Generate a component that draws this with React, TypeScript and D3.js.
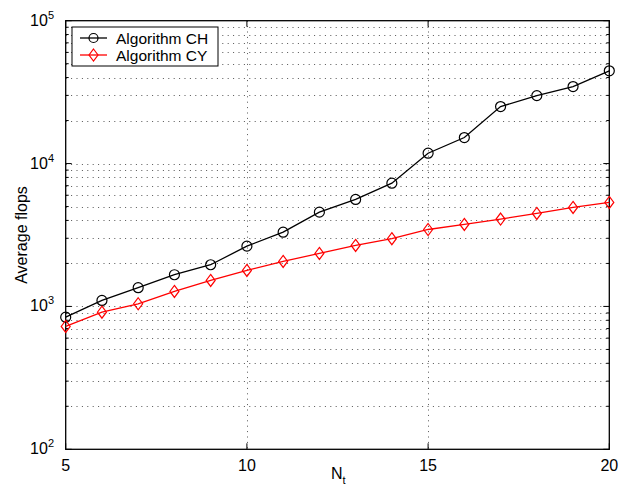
import React, { useEffect, useRef } from "react";
import * as d3 from "d3";

const nt = [5, 6, 7, 8, 9, 10, 11, 12, 13, 14, 15, 16, 17, 18, 19, 20];
const flopsCH = [841, 1101, 1352, 1667, 1958, 2642, 3310, 4570, 5610, 7290, 11820, 15210, 25060, 29900, 34600, 44600];
const flopsCY = [724, 912, 1044, 1274, 1520, 1786, 2066, 2350, 2673, 2978, 3456, 3750, 4085, 4475, 4930, 5347];
const xTicks = [5, 10, 15, 20];
const yDecades = [2, 3, 4, 5];
const seriesNames = ["Algorithm CH", "Algorithm CY"];

const App = () => {
  const ref = useRef<SVGSVGElement>(null);

  useEffect(() => {
    const svg = d3.select(ref.current);
    svg.selectAll("*").remove();

    const left = 65.7, right = 609.3, top = 20.7, bottom = 449.3;
    const font = "'Liberation Sans', Arial, Helvetica, sans-serif";

    const x = d3.scaleLinear().domain([5, 20]).range([left, right]);
    const y = d3.scaleLog().domain([100, 100000]).range([bottom, top]);

    // minor ticks on log axis
    const minor: number[] = [];
    yDecades.slice(0, -1).forEach((e) => {
      for (let m = 2; m <= 9; m++) minor.push(m * Math.pow(10, e));
    });
    const major = yDecades.map((e) => Math.pow(10, e));

    // grid
    const grid = svg.append("g").attr("stroke", "#555").attr("stroke-width", 1).attr("stroke-dasharray", "1,4.4");
    [...minor, ...major.slice(1, -1)].forEach((v) => {
      grid.append("line").attr("x1", left).attr("x2", right)
        .attr("y1", Math.round(y(v)) + 0.5).attr("y2", Math.round(y(v)) + 0.5);
    });
    xTicks.slice(1, -1).forEach((v) => {
      grid.append("line").attr("y1", top).attr("y2", bottom)
        .attr("x1", Math.round(x(v)) + 0.5).attr("x2", Math.round(x(v)) + 0.5);
    });

    // ticks (inward, both sides)
    const ticks = svg.append("g").attr("stroke", "#000").attr("stroke-width", 1);
    major.forEach((v) => {
      const yy = y(v);
      ticks.append("line").attr("x1", left).attr("x2", left + 6).attr("y1", yy).attr("y2", yy);
      ticks.append("line").attr("x1", right).attr("x2", right - 6).attr("y1", yy).attr("y2", yy);
    });
    minor.forEach((v) => {
      const yy = y(v);
      ticks.append("line").attr("x1", left).attr("x2", left + 3).attr("y1", yy).attr("y2", yy);
      ticks.append("line").attr("x1", right).attr("x2", right - 3).attr("y1", yy).attr("y2", yy);
    });
    xTicks.forEach((v) => {
      const xx = x(v);
      ticks.append("line").attr("x1", xx).attr("x2", xx).attr("y1", bottom).attr("y2", bottom - 6);
      ticks.append("line").attr("x1", xx).attr("x2", xx).attr("y1", top).attr("y2", top + 6);
    });

    // frame
    svg.append("rect").attr("x", left).attr("y", top)
      .attr("width", right - left).attr("height", bottom - top)
      .attr("fill", "none").attr("stroke", "#000").attr("stroke-width", 1.3);

    // tick labels
    xTicks.forEach((v) => {
      svg.append("text").attr("x", x(v)).attr("y", 471)
        .attr("text-anchor", "middle").attr("font-family", font).attr("font-size", 16)
        .text(String(v));
    });
    yDecades.forEach((e) => {
      const t = svg.append("text").attr("x", 54).attr("y", y(Math.pow(10, e)) + 5)
        .attr("text-anchor", "end").attr("font-family", font).attr("font-size", 16);
      t.append("tspan").text("10");
      t.append("tspan").attr("font-size", 11).attr("dy", -7).text(String(e));
    });
    // axis labels
    const xl = svg.append("text").attr("x", 331).attr("y", 479)
      .attr("font-family", font).attr("font-size", 16);
    xl.append("tspan").text("N");
    xl.append("tspan").attr("font-size", 11).attr("dy", 5).text("t");
    svg.append("text")
      .attr("transform", `translate(27,${(top + bottom) / 2}) rotate(-90)`)
      .attr("text-anchor", "middle").attr("font-family", font).attr("font-size", 16)
      .text("Average flops");

    // series
    const line = d3.line<[number, number]>().x((d) => x(d[0])).y((d) => y(d[1]));
    const chPts = nt.map((n, i) => [n, flopsCH[i]] as [number, number]);
    const cyPts = nt.map((n, i) => [n, flopsCY[i]] as [number, number]);
    const diamond = (cx: number, cy: number, r: number) =>
      `M${cx},${cy - r}L${cx + r * 0.75},${cy}L${cx},${cy + r}L${cx - r * 0.75},${cy}Z`;

    svg.append("path").datum(chPts).attr("d", line).attr("fill", "none")
      .attr("stroke", "#000").attr("stroke-width", 1.3);
    svg.append("g").selectAll("circle").data(chPts).enter().append("circle")
      .attr("cx", (d) => x(d[0])).attr("cy", (d) => y(d[1])).attr("r", 5)
      .attr("fill", "none").attr("stroke", "#000").attr("stroke-width", 1.2);

    svg.append("path").datum(cyPts).attr("d", line).attr("fill", "none")
      .attr("stroke", "#f00").attr("stroke-width", 1.3);
    svg.append("g").selectAll("path").data(cyPts).enter().append("path")
      .attr("d", (d) => diamond(x(d[0]), y(d[1]), 6))
      .attr("fill", "none").attr("stroke", "#f00").attr("stroke-width", 1.2);

    // legend
    const lg = svg.append("g");
    lg.append("rect").attr("x", 72).attr("y", 27).attr("width", 146).attr("height", 39)
      .attr("fill", "#fff").attr("stroke", "#000").attr("stroke-width", 1);
    const colors = ["#000", "#f00"];
    seriesNames.forEach((name, i) => {
      const yy = 38 + i * 17;
      lg.append("line").attr("x1", 80).attr("x2", 107).attr("y1", yy).attr("y2", yy)
        .attr("stroke", colors[i]).attr("stroke-width", 1.3);
      if (i === 0) {
        lg.append("circle").attr("cx", 93.5).attr("cy", yy).attr("r", 4.5)
          .attr("fill", "none").attr("stroke", colors[i]).attr("stroke-width", 1.2);
      } else {
        lg.append("path").attr("d", diamond(93.5, yy, 6))
          .attr("fill", "none").attr("stroke", colors[i]).attr("stroke-width", 1.2);
      }
      lg.append("text").attr("x", 116).attr("y", yy + 5.5)
        .attr("font-family", font).attr("font-size", 15.5).text(name);
    });
  }, []);

  return (
    <svg ref={ref} width={628} height={487}
      style={{ position: "absolute", left: 0, top: 0, background: "#fff" }} />
  );
};

export default App;
